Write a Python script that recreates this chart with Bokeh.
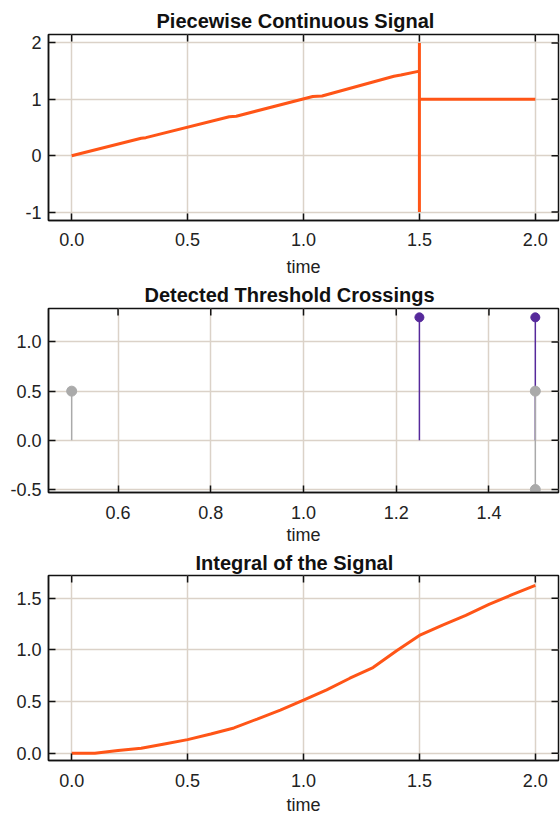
import math
from bokeh.plotting import figure
from bokeh.layouts import column
from bokeh.models import FixedTicker, Range1d, PrintfTickFormatter
from bokeh.embed import file_html
from bokeh.resources import INLINE

# ---- data ----
sig_t = [0.0, 0.3, 0.32, 0.68, 0.71, 1.04, 1.08, 1.39, 1.42, 1.5, 1.5, 1.5, 1.5, 2.0]
sig_y = [0.0, 0.31, 0.32, 0.69, 0.70, 1.05, 1.06, 1.41, 1.43, 1.5, 2.0, -1.0, 1.0, 1.0]

up_t = [1.25, 1.5]
up_y = [1.25, 1.25]
down_t = [0.5, 1.5, 1.5]
down_y = [0.5, 0.5, -0.5]

int_t = [0.0, 0.1, 0.2, 0.3, 0.4, 0.5, 0.6, 0.7, 0.8, 0.9, 1.0,
         1.1, 1.2, 1.3, 1.4, 1.5, 1.6, 1.7, 1.8, 1.9, 2.0]
int_y = [0.0, 0.0, 0.026, 0.048, 0.09, 0.132, 0.187, 0.245, 0.331, 0.418, 0.514,
         0.614, 0.726, 0.829, 0.99, 1.14, 1.24, 1.335, 1.44, 1.535, 1.625]

x1_ticks = [0.0, 0.5, 1.0, 1.5, 2.0]
y1_ticks = [-1, 0, 1, 2]
x2_ticks = [0.6, 0.8, 1.0, 1.2, 1.4]
y2_ticks = [-0.5, 0.0, 0.5, 1.0]
x3_ticks = [0.0, 0.5, 1.0, 1.5, 2.0]
y3_ticks = [0.0, 0.5, 1.0, 1.5]

titles = ["Piecewise Continuous Signal", "Detected Threshold Crossings", "Integral of the Signal"]
x_label = "time"

FONT = "Liberation Sans"
ORANGE = "#ff5517"
PURPLE = "#56299b"
GRAY = "#aaaaaa"
GRID = "#dbd2c8"
INK = "#111111"
W = 560


def make_fig(title, height, mbt, mbb, mbl, xr, yr, xt, yt, xfmt, yfmt,
             tstand, toff, lstand, astand):
    p = figure(width=W, height=height, output_backend="svg", toolbar_location=None,
               x_range=Range1d(*xr), y_range=Range1d(*yr),
               min_border_top=mbt, min_border_bottom=mbb, min_border_left=mbl,
               min_border_right=2)
    p.title.text = title
    p.title.text_font = FONT
    p.title.text_font_size = "20px"
    p.title.text_font_style = "bold"
    p.title.text_color = INK
    p.title.align = "left"
    p.title.offset = toff
    p.title.standoff = tstand
    p.outline_line_color = INK
    p.outline_line_width = 1.5
    p.background_fill_color = "white"
    p.border_fill_color = "white"
    for ax in (p.xaxis[0], p.yaxis[0]):
        ax.major_label_text_font = FONT
        ax.major_label_text_font_size = "18px"
        ax.major_label_text_color = "#222222"
        ax.axis_line_color = INK
        ax.axis_line_width = 1.5
        ax.major_tick_line_color = INK
        ax.major_tick_line_width = 1.5
        ax.major_tick_in = 7
        ax.major_tick_out = 0
        ax.minor_tick_line_color = None
    p.xaxis[0].ticker = FixedTicker(ticks=xt)
    p.yaxis[0].ticker = FixedTicker(ticks=yt)
    p.xaxis[0].formatter = PrintfTickFormatter(format=xfmt)
    p.yaxis[0].formatter = PrintfTickFormatter(format=yfmt)
    p.xaxis[0].axis_label = x_label
    p.xaxis[0].axis_label_text_font = FONT
    p.xaxis[0].axis_label_text_font_size = "18px"
    p.xaxis[0].axis_label_text_font_style = "normal"
    p.xaxis[0].axis_label_text_color = "#222222"
    p.xaxis[0].axis_label_standoff = astand
    p.xaxis[0].major_label_standoff = lstand
    p.yaxis[0].major_label_standoff = 7
    # mirrored inward ticks on top and right edges
    p.ray(x=xt, y=[yr[1]] * len(xt), length=7, length_units="screen",
          angle=-math.pi / 2, line_color=INK, line_width=1.5)
    p.ray(x=[xr[1]] * len(yt), y=yt, length=7, length_units="screen",
          angle=math.pi, line_color=INK, line_width=1.5)
    p.xgrid.ticker = FixedTicker(ticks=xt)
    p.ygrid.ticker = FixedTicker(ticks=yt)
    p.grid.grid_line_color = GRID
    p.grid.grid_line_width = 1.5
    return p


p1 = make_fig(titles[0], 279, 34, 59, 45, (-0.1, 2.1), (-1.15, 2.15), x1_ticks, y1_ticks,
              "%.1f", "%d", 5, 108, 12, 8)
p1.line(sig_t, sig_y, line_color=ORANGE, line_width=3)

p2 = make_fig(titles[1], 268, 28, 55, 48, (0.45, 1.55), (-0.53, 1.34), x2_ticks, y2_ticks,
              "%.1f", "%.1f", 5, 96, 13, 3)
p2.segment(x0=up_t, y0=[0] * len(up_t), x1=up_t, y1=up_y, line_color=PURPLE, line_width=1.5)
p2.scatter(up_t, up_y, size=9, fill_color=PURPLE, line_color=PURPLE)
p2.segment(x0=down_t, y0=[0] * len(down_t), x1=down_t, y1=down_y, line_color=GRAY, line_width=1.5)
p2.scatter(down_t, down_y, size=10, fill_color=GRAY, line_color=GRAY)

p3 = make_fig(titles[2], 270, 27, 57, 47, (-0.1, 2.1), (-0.07, 1.72), x3_ticks, y3_ticks,
              "%.1f", "%.1f", 4, 147, 13, 5)
p3.line(int_t, int_y, line_color=ORANGE, line_width=3)

layout = column(p1, p2, p3, spacing=0)
open("out.html", "w").write(file_html(layout, INLINE))
